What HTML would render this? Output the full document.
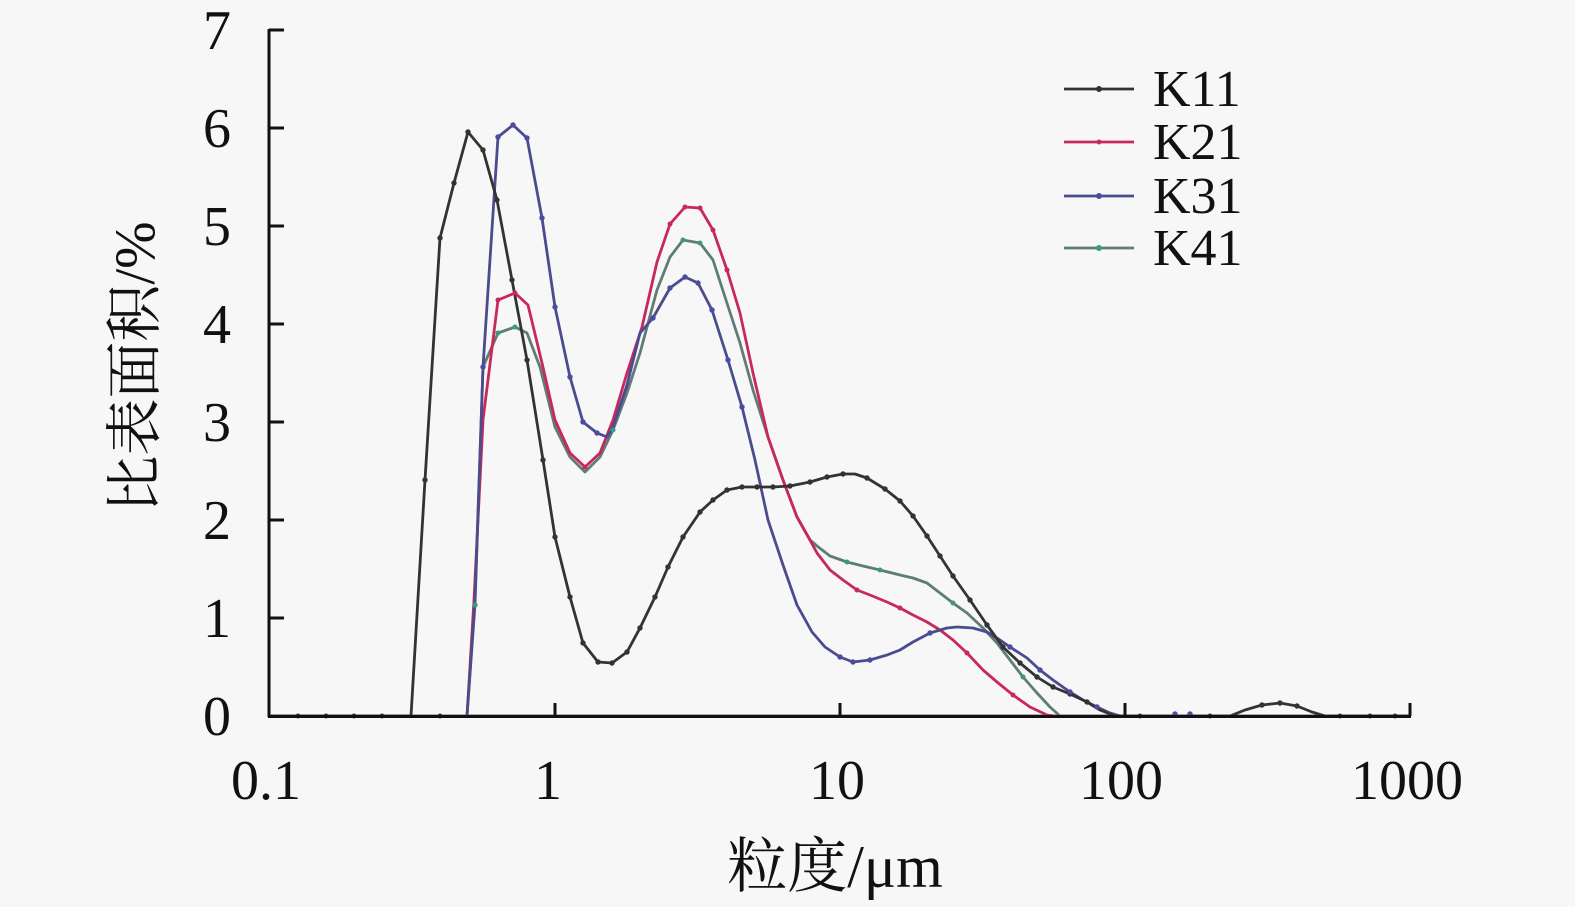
<!DOCTYPE html>
<html><head><meta charset="utf-8"><style>
html,body{margin:0;padding:0;background:#f7f7f7;}
svg{display:block;}
text{font-family:"Liberation Serif","Noto Serif CJK SC",serif;fill:#111;}
</style></head><body>
<svg width="1575" height="907" viewBox="0 0 1575 907" xmlns="http://www.w3.org/2000/svg">
<rect width="1575" height="907" fill="#f7f7f7"/>
<polyline fill="none" stroke="#333" stroke-width="2.8" points="270,716 1410,716"/>
<!-- K41 -->
<polyline fill="none" stroke="#5f7c76" stroke-width="2.8" stroke-linejoin="round" points="467,716 475,605 483,367 498,333 515,327 527,333 540,367 555,427 570,457 585,472 600,457 613,430 627,393 640,353 657,290 670,257 683,240 700,243 713,260 725,297 740,343 753,390 768,437 783,480 797,517 810,540 817,546 830,556 847,562 863,566 880,570 900,575 913,578 927,583 940,593 953,603 967,613 983,628 997,643 1010,660 1023,677 1037,693 1050,707 1060,716"/>
<!-- K21 -->
<polyline fill="none" stroke="#c8285a" stroke-width="2.8" stroke-linejoin="round" points="467,716 474,600 483,420 498,300 515,293 528,305 542,363 555,420 570,453 585,467 600,453 613,420 627,373 642,327 657,262 670,224 685,207 700,208 713,230 727,270 740,313 753,373 768,437 783,480 797,517 810,540 817,553 830,570 843,580 857,590 870,595 887,602 900,608 913,615 927,622 940,630 953,640 967,653 983,670 997,682 1013,695 1030,707 1047,715 1055,716"/>
<!-- K31 -->
<polyline fill="none" stroke="#4b4b8f" stroke-width="2.8" stroke-linejoin="round" points="467,716 475,600 483,367 498,137 513,125 527,138 542,218 555,307 570,377 583,422 597,433 607,437 613,427 627,385 640,333 653,318 670,288 685,277 698,283 712,310 728,360 742,407 755,460 768,520 783,565 797,605 812,632 825,647 840,657 853,662 870,660 887,655 900,650 913,642 930,633 947,628 957,627 973,628 987,632 1000,640 1010,647 1027,658 1040,670 1053,680 1070,692 1083,700 1097,707 1110,713 1120,716"/>
<!-- K11 -->
<polyline fill="none" stroke="#333" stroke-width="2.8" stroke-linejoin="round" points="270,716 411,716 425,480 440,238 454,183 468,132 483,150 497,200 512,280 527,360 543,460 555,537 570,597 583,643 598,662 612,663 627,652 640,628 655,597 668,567 683,537 700,512 713,500 727,490 742,487 757,487 773,487 790,486 810,482 827,477 843,474 855,474 867,478 885,489 900,501 913,516 927,536 940,556 953,576 970,600 987,625 1003,647 1020,663 1037,677 1053,687 1070,694 1087,702 1100,710 1115,716 1230,716 1245,710 1262,705 1280,703 1297,706 1312,712 1325,716 1410,716"/>
<!-- markers -->
<g fill="#333">
<circle cx="425" cy="480" r="2.7"/><circle cx="440" cy="238" r="2.7"/><circle cx="454" cy="183" r="2.7"/><circle cx="468" cy="132" r="2.7"/><circle cx="483" cy="150" r="2.7"/><circle cx="497" cy="200" r="2.7"/><circle cx="512" cy="280" r="2.7"/><circle cx="527" cy="360" r="2.7"/><circle cx="543" cy="460" r="2.7"/><circle cx="555" cy="537" r="2.7"/><circle cx="570" cy="597" r="2.7"/><circle cx="583" cy="643" r="2.7"/><circle cx="598" cy="662" r="2.7"/><circle cx="612" cy="663" r="2.7"/><circle cx="627" cy="652" r="2.7"/><circle cx="640" cy="628" r="2.7"/><circle cx="655" cy="597" r="2.7"/><circle cx="668" cy="567" r="2.7"/><circle cx="683" cy="537" r="2.7"/><circle cx="700" cy="512" r="2.7"/><circle cx="713" cy="500" r="2.7"/><circle cx="727" cy="490" r="2.7"/><circle cx="742" cy="487" r="2.7"/><circle cx="757" cy="487" r="2.7"/><circle cx="773" cy="487" r="2.7"/><circle cx="790" cy="486" r="2.7"/><circle cx="810" cy="482" r="2.7"/><circle cx="827" cy="477" r="2.7"/><circle cx="843" cy="474" r="2.7"/><circle cx="867" cy="478" r="2.7"/><circle cx="885" cy="489" r="2.7"/><circle cx="900" cy="501" r="2.7"/><circle cx="913" cy="516" r="2.7"/><circle cx="927" cy="536" r="2.7"/><circle cx="940" cy="556" r="2.7"/><circle cx="953" cy="576" r="2.7"/><circle cx="970" cy="600" r="2.7"/><circle cx="987" cy="625" r="2.7"/><circle cx="1003" cy="647" r="2.7"/><circle cx="1020" cy="663" r="2.7"/><circle cx="1037" cy="677" r="2.7"/><circle cx="1053" cy="687" r="2.7"/><circle cx="1070" cy="694" r="2.7"/><circle cx="1087" cy="702" r="2.7"/><circle cx="1262" cy="705" r="2.7"/><circle cx="1280" cy="703" r="2.7"/><circle cx="1297" cy="706" r="2.7"/>
<circle cx="298" cy="716" r="2.5"/><circle cx="326" cy="716" r="2.5"/><circle cx="354" cy="716" r="2.5"/><circle cx="382" cy="716" r="2.5"/><circle cx="440" cy="716" r="2.5"/><circle cx="1140" cy="716" r="2.5"/><circle cx="1210" cy="716" r="2.5"/><circle cx="1340" cy="716" r="2.5"/><circle cx="1370" cy="716" r="2.5"/><circle cx="1395" cy="716" r="2.5"/>
</g>
<g fill="#4b4b9f">
<circle cx="483" cy="367" r="2.7"/><circle cx="498" cy="137" r="2.7"/><circle cx="513" cy="125" r="2.7"/><circle cx="527" cy="138" r="2.7"/><circle cx="542" cy="218" r="2.7"/><circle cx="555" cy="307" r="2.7"/><circle cx="570" cy="377" r="2.7"/><circle cx="583" cy="422" r="2.7"/><circle cx="597" cy="433" r="2.7"/><circle cx="653" cy="318" r="2.7"/><circle cx="670" cy="288" r="2.7"/><circle cx="685" cy="277" r="2.7"/><circle cx="698" cy="283" r="2.7"/><circle cx="712" cy="310" r="2.7"/><circle cx="728" cy="360" r="2.7"/><circle cx="742" cy="407" r="2.7"/><circle cx="840" cy="657" r="2.7"/><circle cx="853" cy="662" r="2.7"/><circle cx="870" cy="660" r="2.7"/><circle cx="930" cy="633" r="2.7"/><circle cx="1010" cy="647" r="2.7"/><circle cx="1040" cy="670" r="2.7"/><circle cx="1070" cy="692" r="2.7"/><circle cx="1097" cy="707" r="2.7"/><circle cx="1175" cy="714" r="2.7"/><circle cx="1190" cy="714" r="2.7"/>
</g>
<g fill="#c8285a">
<circle cx="498" cy="300" r="2.5"/><circle cx="515" cy="293" r="2.5"/><circle cx="585" cy="467" r="2.5"/><circle cx="670" cy="224" r="2.5"/><circle cx="685" cy="207" r="2.5"/><circle cx="700" cy="208" r="2.5"/><circle cx="713" cy="230" r="2.5"/><circle cx="727" cy="270" r="2.5"/><circle cx="857" cy="590" r="2.5"/><circle cx="900" cy="608" r="2.5"/><circle cx="967" cy="653" r="2.5"/><circle cx="1013" cy="695" r="2.5"/>
</g>
<g fill="#3a9a80">
<circle cx="475" cy="605" r="2.7"/><circle cx="498" cy="333" r="2.5"/><circle cx="515" cy="327" r="2.5"/><circle cx="613" cy="430" r="2.5"/><circle cx="683" cy="240" r="2.5"/><circle cx="700" cy="243" r="2.5"/><circle cx="847" cy="562" r="2.5"/><circle cx="880" cy="570" r="2.5"/><circle cx="953" cy="603" r="2.5"/><circle cx="1023" cy="677" r="2.5"/>
</g>
<!-- axes -->
<g stroke="#111" stroke-width="3" fill="none">
<line x1="269" y1="29" x2="269" y2="717"/>
<line x1="268" y1="716.5" x2="1411" y2="716.5"/>
<line x1="269" y1="30" x2="284" y2="30"/>
<line x1="269" y1="128" x2="284" y2="128"/>
<line x1="269" y1="226" x2="284" y2="226"/>
<line x1="269" y1="324" x2="284" y2="324"/>
<line x1="269" y1="422" x2="284" y2="422"/>
<line x1="269" y1="520" x2="284" y2="520"/>
<line x1="269" y1="618" x2="284" y2="618"/>
<line x1="555" y1="703" x2="555" y2="716"/>
<line x1="840" y1="703" x2="840" y2="716"/>
<line x1="1125" y1="703" x2="1125" y2="716"/>
<line x1="1410" y1="703" x2="1410" y2="716"/>
</g>
<!-- y tick labels -->
<g font-size="56" text-anchor="end">
<text x="231" y="49">7</text>
<text x="231" y="147">6</text>
<text x="231" y="245">5</text>
<text x="231" y="343">4</text>
<text x="231" y="441">3</text>
<text x="231" y="539">2</text>
<text x="231" y="637">1</text>
<text x="231" y="735">0</text>
</g>
<!-- x tick labels -->
<g font-size="56" text-anchor="middle">
<text x="266" y="799">0.1</text>
<text x="548" y="799">1</text>
<text x="837" y="799">10</text>
<text x="1121" y="799">100</text>
<text x="1407" y="799">1000</text>
</g>
<!-- axis titles -->
<text x="835" y="887" font-size="60" text-anchor="middle">粒度/μm</text>
<text transform="translate(154,367) rotate(-90)" font-size="57" text-anchor="middle">比表面积/%</text>
<!-- legend -->
<g stroke-width="2.8">
<line x1="1064" y1="89" x2="1134" y2="89" stroke="#333"/>
<line x1="1064" y1="142" x2="1134" y2="142" stroke="#c8285a"/>
<line x1="1064" y1="196" x2="1134" y2="196" stroke="#4b4b8f"/>
<line x1="1064" y1="248" x2="1134" y2="248" stroke="#5f7c76"/>
</g>
<circle cx="1099" cy="89" r="3" fill="#333"/>
<circle cx="1099" cy="142" r="2.5" fill="#c8285a"/>
<circle cx="1099" cy="196" r="3" fill="#4b4b9f"/>
<circle cx="1099" cy="248" r="3" fill="#3a9a80"/>
<g font-size="52">
<text x="1153" y="106">K11</text>
<text x="1153" y="159">K21</text>
<text x="1153" y="213">K31</text>
<text x="1153" y="265">K41</text>
</g>
</svg>
</body></html>
